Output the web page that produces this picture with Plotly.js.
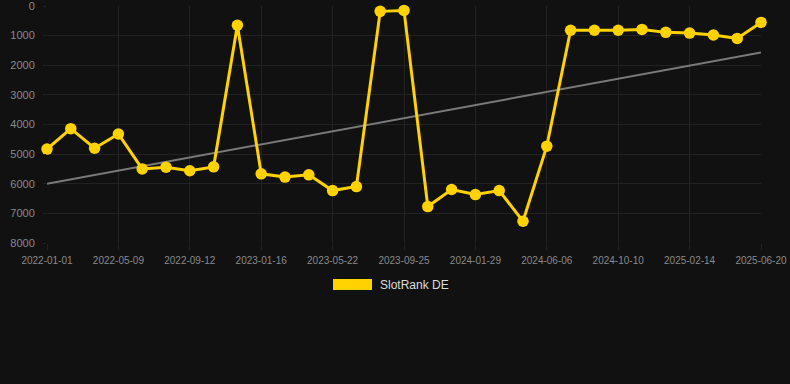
<!DOCTYPE html>
<html>
<head>
<meta charset="utf-8">
<script src="https://cdn.plot.ly/plotly-3.0.1.min.js"></script>
<style>
html,body{margin:0;padding:0;background:#111111;}
#chart{width:790px;height:384px;}
</style>
</head>
<body>
<div id="chart"></div>
<script>
// Categories (one point roughly every 6 weeks; labelled every 3rd)
const dates = [
  "2022-01-01","2022-02-12","2022-03-26","2022-05-09","2022-06-20","2022-08-01",
  "2022-09-12","2022-10-24","2022-12-05","2023-01-16","2023-02-27","2023-04-10",
  "2023-05-22","2023-07-03","2023-08-14","2023-09-25","2023-11-06","2023-12-18",
  "2024-01-29","2024-03-11","2024-04-23","2024-06-06","2024-07-18","2024-08-29",
  "2024-10-10","2024-11-21","2025-01-02","2025-02-14","2025-03-28","2025-05-09",
  "2025-06-20"
];
const rank = [
  4830, 4140, 4800, 4320, 5500, 5440, 5560, 5430, 650, 5665, 5775, 5700,
  6230, 6095, 180, 150, 6770, 6195, 6365, 6230, 7265, 4730, 820, 820,
  820, 790, 890, 915, 980, 1095, 555
];
const tickLabels = [
  "2022-01-01","2022-05-09","2022-09-12","2023-01-16","2023-05-22","2023-09-25",
  "2024-01-29","2024-06-06","2024-10-10","2025-02-14","2025-06-20"
];
const trendX = ["2022-01-01", "2025-06-20"];
const trendY = [6000, 1570];
const yTicks = [0, 1000, 2000, 3000, 4000, 5000, 6000, 7000, 8000];
const seriesName = "SlotRank DE";

const gold = "#ffd200";
const traces = [
  {
    x: trendX, y: trendY, type: "scatter", mode: "lines",
    line: {color: "#7a7a7a", width: 2}, hoverinfo: "skip", showlegend: false,
    cliponaxis: false
  },
  {
    x: dates, y: rank, type: "scatter", mode: "lines+markers",
    name: seriesName,
    line: {color: gold, width: 3},
    marker: {color: gold, size: 11.5},
    showlegend: false,
    cliponaxis: false
  }
];

const layout = {
  width: 790, height: 384,
  paper_bgcolor: "#111111", plot_bgcolor: "#111111",
  margin: {l: 47, r: 29, t: 6, b: 141},
  font: {family: "Liberation Sans, Arial, sans-serif", color: "#8a8a8a"},
  xaxis: {
    type: "category",
    categoryorder: "array", categoryarray: dates,
    range: [0, dates.length - 1],
    tickmode: "array", tickvals: tickLabels, ticktext: tickLabels,
    tickfont: {size: 10, color: "#8a8a8a"},
    showgrid: true, gridcolor: "#222222", gridwidth: 1,
    zeroline: false, showline: false,
    ticks: "outside", ticklen: 6, tickcolor: "#222222",
    ticklabelstandoff: 2,
    ticklabeloverflow: "allow"
  },
  yaxis: {
    range: [8000, 0],
    tickmode: "array", tickvals: yTicks, ticktext: yTicks.map(String),
    tickfont: {size: 11, color: "#8a8a8a"},
    showgrid: true, gridcolor: "#222222", gridwidth: 1,
    zeroline: false, showline: false,
    ticks: "outside", ticklen: 3, tickcolor: "#222222",
    ticklabelstandoff: 6,
    ticklabeloverflow: "allow"
  },
  shapes: [{
    type: "rect", xref: "paper", yref: "paper",
    x0: (333 - 47) / 714, x1: (372 - 47) / 714,
    y0: -(279 - 243) / 237, y1: -(290 - 243) / 237,
    fillcolor: gold, line: {width: 0}
  }],
  annotations: [{
    xref: "paper", yref: "paper",
    x: (378 - 47) / 714, y: -(284.5 - 243) / 237,
    xanchor: "left", yanchor: "middle",
    text: seriesName, showarrow: false,
    font: {size: 12, color: "#dddddd"}
  }],
  showlegend: false,
  hovermode: false
};

Plotly.newPlot("chart", traces, layout, {displayModeBar: false, staticPlot: true});
</script>
</body>
</html>
